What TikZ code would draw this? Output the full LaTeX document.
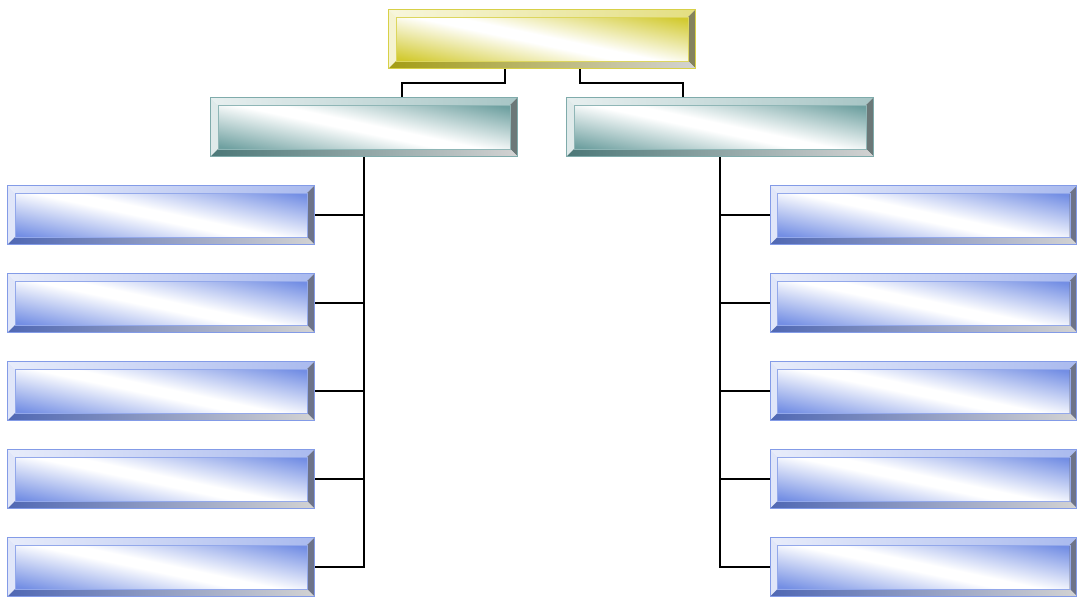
\documentclass[tikz,border=0pt]{standalone}
\usetikzlibrary{calc}
\definecolor{gold}{RGB}{205,196,25}
\definecolor{sea}{RGB}{95,150,150}
\definecolor{sky}{RGB}{100,130,225}
\colorlet{facec}{sky}
\pgfdeclareverticalshading[facec]{facewash}{100bp}{color(0bp)=(facec);
  color(22bp)=(facec); color(47bp)=(white); color(52bp)=(white);
  color(78bp)=(facec); color(100bp)=(facec)}
\tikzset{
  panel/.style={minimum width=306pt,minimum height=58pt,inner sep=0pt},
  link/.style={line width=1.6pt,black}
}
% bevelled box on a named node: #1 node, #2 colour
\newcommand\bevelpanel[2]{%
  \colorlet{facec}{#2!90}%
  \shade[shading=facewash,shading angle=-12]
    ($(#1.north west)+(7,7)$) rectangle ($(#1.south east)+(-7,-7)$);
  \shade[left color=#2!15,right color=#2!55]
    (#1.north west) -- (#1.north east) -- ($(#1.north east)+(-7,7)$)
    -- ($(#1.north west)+(7,7)$) -- cycle;
  \fill[#2!20] (#1.north west) -- ($(#1.north west)+(7,7)$)
    -- ($(#1.south west)+(7,-7)$) -- (#1.south west) -- cycle;
  \fill[#2!25!gray!90!black] (#1.north east) -- (#1.south east)
    -- ($(#1.south east)+(-7,-7)$) -- ($(#1.north east)+(-7,7)$) -- cycle;
  \shade[left color=#2!80!black,right color=gray!35]
    (#1.south west) -- (#1.south east) -- ($(#1.south east)+(-7,-7)$)
    -- ($(#1.south west)+(7,-7)$) -- cycle;
  \draw[#2!80,line width=0.7pt] (#1.north west) rectangle (#1.south east);
  \draw[#2!70,line width=0.4pt] ($(#1.north west)+(7,7)$) rectangle ($(#1.south east)+(-7,-7)$);
}
\begin{document}
\begin{tikzpicture}[x=1pt,y=-1pt]
  \useasboundingbox (0,0) rectangle (1077,600);
  % boxes
  \node[panel] (top) at (542,39) {};
  \node[panel] (left) at (364,127) {};
  \node[panel] (right) at (720,127) {};
  \foreach \i/\y in {1/215,2/303,3/391,4/479,5/567} {
    \node[panel] (l\i) at (161,\y) {};
    \node[panel] (r\i) at (923.5,\y) {};
  }
  % connectors
  \draw[link] ([xshift=-37pt]top.south) -- ++(0,15) -| ([xshift=38pt]left.north);
  \draw[link] ([xshift=38pt]top.south) -- ++(0,15) -| ([xshift=-37pt]right.north);
  \draw[link] (left.south) |- (l5.east);
  \draw[link] (right.south) |- (r5.west);
  \foreach \i in {1,...,4} {
    \draw[link] (l\i.east) -- (l\i.east -| left.south);
    \draw[link] (r\i.west) -- (r\i.west -| right.south);
  }
  % panels
  \bevelpanel{top}{gold}
  \bevelpanel{left}{sea}
  \bevelpanel{right}{sea}
  \foreach \i in {1,...,5} {
    \bevelpanel{l\i}{sky}
    \bevelpanel{r\i}{sky}
  }
\end{tikzpicture}
\end{document}
